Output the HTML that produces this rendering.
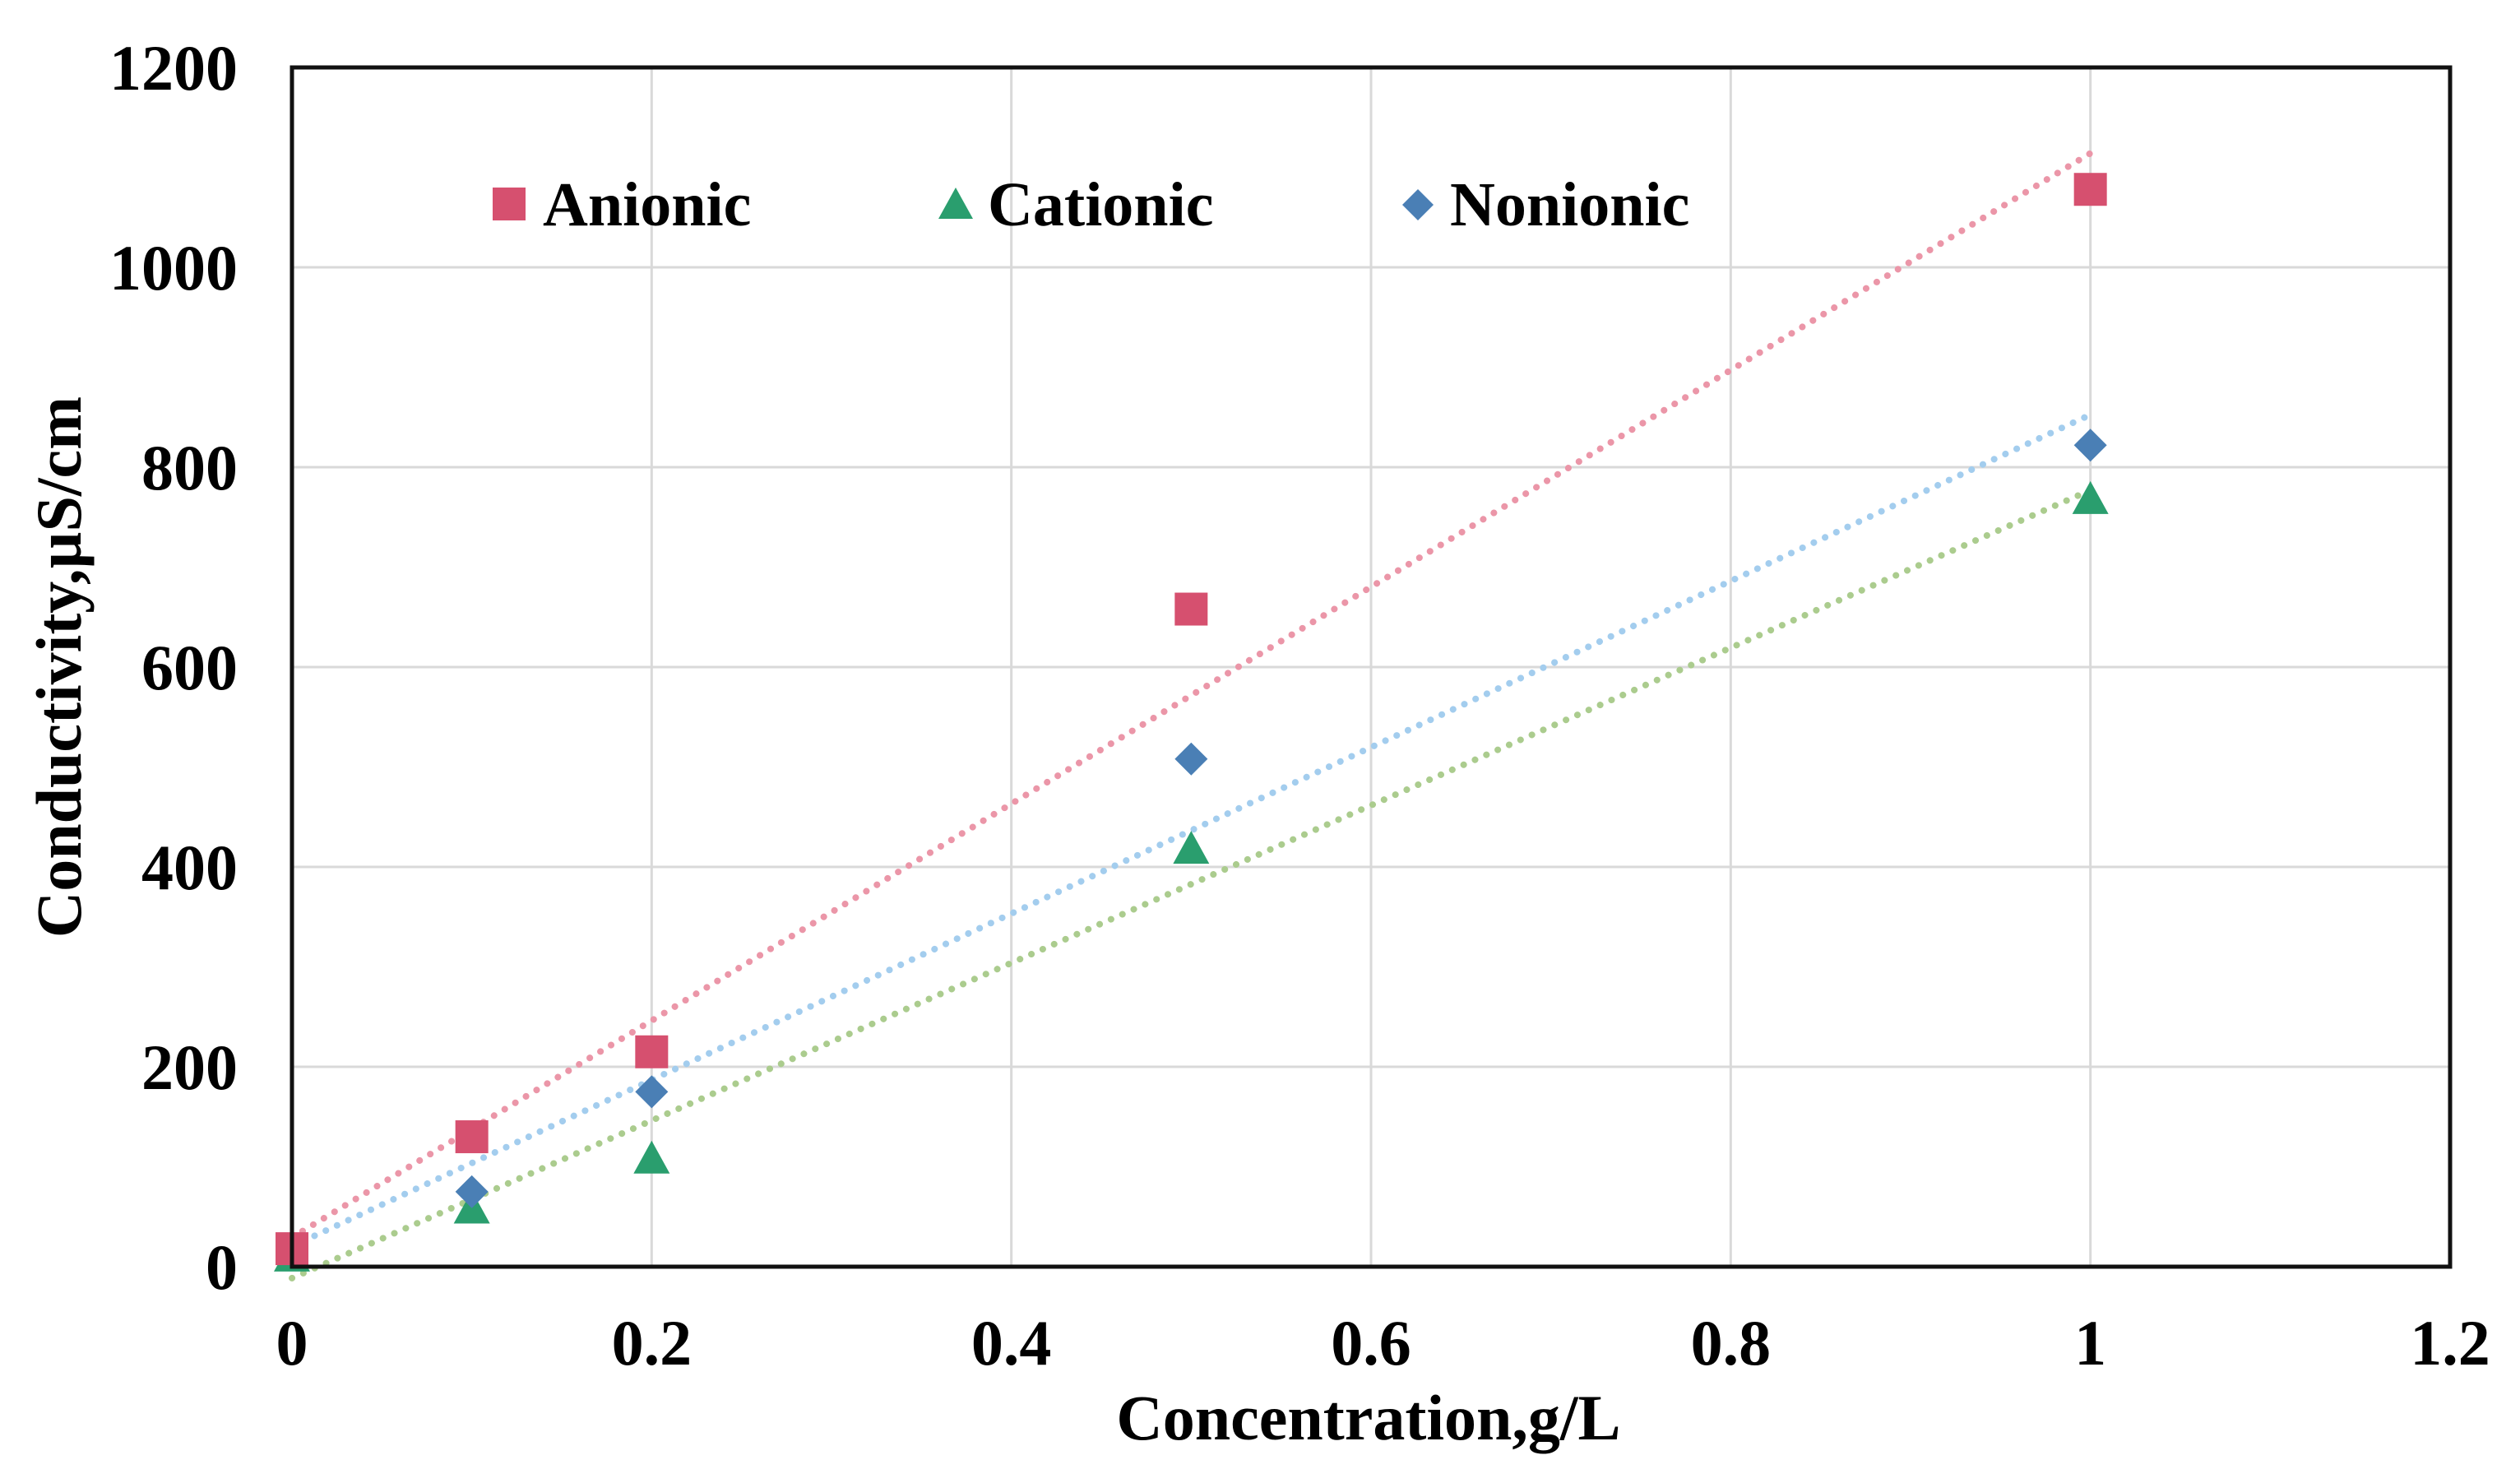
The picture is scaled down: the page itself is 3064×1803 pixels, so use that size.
<!DOCTYPE html>
<html><head><meta charset="utf-8"><style>
html,body{margin:0;padding:0;background:#fff;}
svg{display:block;font-family:"Liberation Serif",serif;font-weight:bold;}
</style></head><body>
<svg id="chart" width="3064" height="1803" viewBox="0 0 3064 1803">
<rect x="0" y="0" width="3064" height="1803" fill="#fff"/>
<g id="grid"></g><g id="trends"></g><g id="marks"></g>
<rect x="355" y="82" width="2624" height="1458" fill="none" stroke="#111" stroke-width="5"/>
<g id="ticks"></g>
<text x="1664" y="1750" font-size="78" text-anchor="middle">Concentration,g/L</text>
<text transform="translate(98,811) rotate(-90)" font-size="78" text-anchor="middle">Conductivity,µS/cm</text>
<g>
<rect x="599" y="228" width="40" height="40" fill="#d6506f"/>
<text x="660" y="274" font-size="76">Anionic</text>
<polygon points="1162,228 1183,266 1141,266" fill="#2a9e6e"/>
<text x="1201" y="274" font-size="76">Cationic</text>
<polygon points="1724,230 1743,249 1724,268 1705,249" fill="#4a7fb5"/>
<text x="1763" y="274" font-size="76">Nonionic</text>
</g>
</svg>
<script>
const xValues=[0,0.1,0.2,0.5,1];
const anionic=[18,130,215,658,1078];
const cationic=[10,58,108,418,768];
const nonionic=[20,75,175,508,822];
const xTicks=[0,0.2,0.4,0.6,0.8,1,1.2];
const xTickLabels=["0","0.2","0.4","0.6","0.8","1","1.2"];
const yTicks=[0,200,400,600,800,1000,1200];
const yTickLabels=["0","200","400","600","800","1000","1200"];
const NS="http://www.w3.org/2000/svg";
const X0=355,X1=2979,Y0=1540,Y1=82;
function sx(v){return X0+(X1-X0)*v/1.2;}
function sy(v){return Y0-(Y0-Y1)*v/1200;}
function mk(p,tag,attrs){const e=document.createElementNS(NS,tag);for(const k in attrs)e.setAttribute(k,attrs[k]);p.appendChild(e);return e;}
const grid=document.getElementById('grid'),ticks=document.getElementById('ticks');
xTicks.forEach((t,i)=>{
  if(i>0&&i<xTicks.length-1){const l=mk(grid,'line',{x1:sx(t),x2:sx(t),y1:Y1,y2:Y0,stroke:'#d9d9d9','stroke-width':3});
  
  }
  const tx=mk(ticks,'text',{x:sx(t),y:1659,'font-size':78,'text-anchor':'middle'});tx.textContent=xTickLabels[i];
  
  
});
yTicks.forEach((t,i)=>{
  if(i>0&&i<yTicks.length-1){const l=mk(grid,'line',{x1:X0,x2:X1,y1:sy(t),y2:sy(t),stroke:'#d9d9d9','stroke-width':3});
  
  }
  const tx=mk(ticks,'text',{x:289,y:sy(t)+27,'font-size':78,'text-anchor':'end'});tx.textContent=yTickLabels[i];
  
  
});
function fit(ys){const n=xValues.length;const mx=xValues.reduce((a,b)=>a+b)/n,my=ys.reduce((a,b)=>a+b)/n;let sxx=0,sxy=0;xValues.forEach((x,i)=>{sxx+=(x-mx)*(x-mx);sxy+=(x-mx)*(ys[i]-my);});const b=sxy/sxx;return [my-b*mx,b];}
const series=[
 {name:'anionic',data:anionic,line:'#eb96a8',fill:'#d6506f',shape:'square'},
 {name:'nonionic',data:nonionic,line:'#a3cdee',fill:'#4a7fb5',shape:'diamond'},
 {name:'cationic',data:cationic,line:'#abcc8e',fill:'#2a9e6e',shape:'triangle'}];
const trends=document.getElementById('trends'),marks=document.getElementById('marks');
series.forEach(s=>{
  const [a,b]=fit(s.data);
  const l=mk(trends,'line',{x1:sx(0),y1:sy(a),x2:sx(1),y2:sy(a+b),stroke:s.line,'stroke-width':8,'stroke-dasharray':'0.1 15','stroke-linecap':'round'});
  
  
});
['cationic','nonionic','anionic'].forEach(nm=>{
  const s=series.find(q=>q.name===nm);
  s.data.forEach((v,i)=>{
    const cx=sx(xValues[i]),cy=sy(v);let e;
    if(s.shape==='square')e=mk(marks,'rect',{x:cx-20,y:cy-20,width:40,height:40,fill:s.fill});
    else if(s.shape==='triangle')e=mk(marks,'polygon',{points:`${cx},${cy-22} ${cx+22},${cy+18} ${cx-22},${cy+18}`,fill:s.fill});
    else e=mk(marks,'polygon',{points:`${cx},${cy-20} ${cx+20},${cy} ${cx},${cy+20} ${cx-20},${cy}`,fill:s.fill});
    
    
  });
});
</script>
</body></html>
